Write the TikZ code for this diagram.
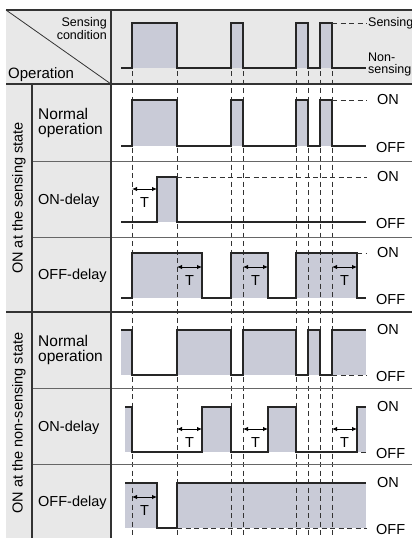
\documentclass[tikz,border=0pt]{standalone}
\usepackage{fontspec}
\setmainfont{Liberation Sans}
\usetikzlibrary{arrows.meta}
\definecolor{cellgray}{HTML}{E8E8E8}
\definecolor{pulsegray}{HTML}{C9CBD7}
\definecolor{rulegray}{HTML}{333333}

\begin{document}
\begin{tikzpicture}[x=1pt, y=-1pt,
    rule/.style={draw=rulegray, line width=1.2pt},
    thinrule/.style={draw=rulegray!75, line width=1pt},
    wave/.style={draw=black!85, line width=1.2pt},
    pulse/.style={fill=pulsegray},
    guide/.style={draw=black!80, line width=0.7pt, dash pattern=on 5pt off 3.5pt},
    delay/.style={draw=black, line width=0.9pt,
      {Latex[length=5pt,width=4.5pt]}-{Latex[length=5pt,width=4.5pt]}},
    lbl/.style={font=\fontsize{14.5}{14}\selectfont, inner sep=0pt},
    rowlbl/.style={lbl, anchor=west, align=left},
    twolines/.style={rowlbl, font=\fontsize{15.5}{15}\selectfont},
    small/.style={font=\fontsize{12.5}{13}\selectfont, inner sep=0pt}
  ]
  \clip (0,0) rectangle (412,538);
  \fill[cellgray] (6,10) rectangle (412,84);
  \fill[cellgray] (6,84) rectangle (111,538);

  \foreach \t/\b in {23/68, 100/146}
    \foreach \a/\c in {132/177, 231/243, 296/308, 320/332}
      \fill[pulse] (\a,\t) rectangle (\c,\b);
  \fill[pulse] (157,177) rectangle (177,222);
  \foreach \a/\c in {132/202, 231/268, 296/357}
    \fill[pulse] (\a,253) rectangle (\c,298);
  \foreach \a/\c in {121/132, 177/231, 243/296, 308/320, 332/366}
    \fill[pulse] (\a,330) rectangle (\c,375);
  \foreach \a/\c in {125/132, 202/231, 268/296, 357/366}
    \fill[pulse] (\a,407) rectangle (\c,452);
  \foreach \a/\c in {125/157, 177/366}
    \fill[pulse] (\a,483) rectangle (\c,528);

  \foreach \x in {132,177,231,243,296,308,320,332}
    \draw[guide] (\x,71) -- (\x,538);

  \draw[rule] (6,10) -- (412,10);
  \draw[rule] (6,84) -- (412,84);
  \draw[rule] (6,312) -- (412,312);
  \foreach \y in {161,237,388,464}
    \draw[thinrule] (32,\y) -- (412,\y);
  \draw[rule] (111,10) -- (111,538);
  \draw[rule] (32,84) -- (32,538);
  \draw[rule, line width=0.8pt] (6,10) -- (111,84);

  \draw[wave] (121,68) -| (132,23) -| (177,68) -| (231,23) -| (243,68) -| (296,23) -| (308,68) -| (320,23) -| (332,68) -- (366,68);
  \draw[wave] (121,146) -| (132,100) -| (177,146) -| (231,100) -| (243,146) -| (296,100) -| (308,146) -| (320,100) -| (332,146) -- (366,146);
  \draw[wave] (121,222) -| (157,177) -| (177,222) -- (366,222);
  \draw[wave] (121,298) -| (132,253) -| (202,298) -| (231,253) -| (268,298) -| (296,253) -| (357,298) -- (366,298);
  \draw[wave] (121,330) -| (132,375) -| (177,330) -| (231,375) -| (243,330) -| (296,375) -| (308,330) -| (320,375) -| (332,330) -- (366,330);
  \draw[wave] (125,407) -| (132,452) -| (202,407) -| (231,452) -| (268,407) -| (296,452) -| (357,407) -- (366,407);
  \draw[wave] (125,483) -| (157,528) -| (177,483) -- (366,483);

  \draw[guide] (332,23) -- (367,23);
  \draw[guide] (332,100) -- (367,100);
  \draw[guide] (177,177) -- (367,177);
  \draw[guide] (357,253) -- (367,253);
  \draw[guide] (332,375) -- (367,375);
  \draw[guide] (361,452) -- (367,452);
  \draw[guide] (177,528) -- (367,528);

  \foreach \a/\y in {132/189, 177/267, 243/267, 332/267, 177/429, 243/429, 332/429, 132/497} {
    \draw[delay] (\a,\y) -- ++(25,0);
    \node[lbl] (T-\a-\y) at (\a+12.5,\y+14) {T};
  }

  \node[small, anchor=north east, align=right] (cond) at (107,17) {Sensing\\condition};
  \node[lbl, anchor=base west, font=\fontsize{15}{14}\selectfont] (oper) at (8,78) {Operation};
  \node[small, anchor=west] (sens) at (368,23) {Sensing};
  \node[small, anchor=north west, align=left, font=\fontsize{12.5}{11.5}\selectfont] (nons) at (368,53) {Non-\\sensing};

  \node[lbl, rotate=90] (grp-on) at (19,198) {ON at the sensing state};
  \node[lbl, rotate=90] (grp-off) at (19,423) {ON at the non-sensing state};

  \node[twolines] (norm-a) at (38,123) {Normal\\operation};
  \node[rowlbl] (ond-a) at (38,201) {ON-delay};
  \node[rowlbl] (offd-a) at (38,276) {OFF-delay};
  \node[twolines] (norm-b) at (38,350) {Normal\\operation};
  \node[rowlbl] (ond-b) at (38,428) {ON-delay};
  \node[rowlbl] (offd-b) at (38,503) {OFF-delay};

  \foreach \on/\off [count=\i] in {100/146, 177/222, 253/298, 330/375, 407/452, 483/528} {
    \node[lbl, anchor=west] (on-\i) at (377,\on) {ON};
    \node[lbl, anchor=west] (off-\i) at (376,\off+2) {OFF};
  }
\end{tikzpicture}
\end{document}
